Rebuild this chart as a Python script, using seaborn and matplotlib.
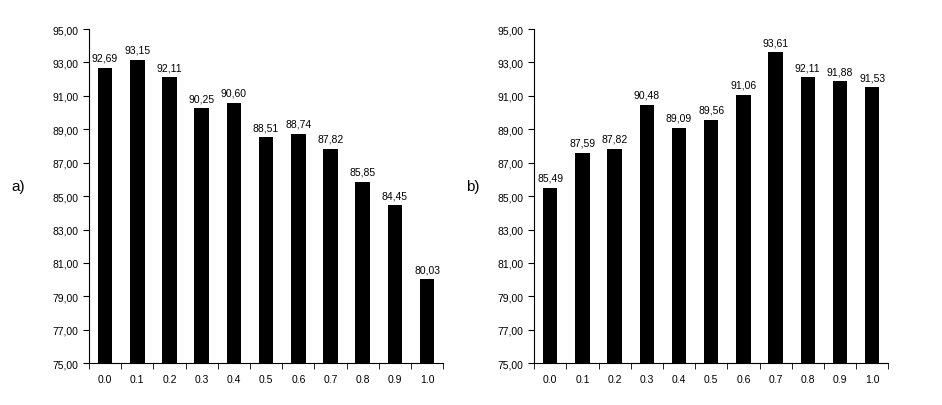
import matplotlib
matplotlib.use("Agg")
import matplotlib.pyplot as plt
import seaborn as sns
import numpy as np

categories = ["0.0","0.1","0.2","0.3","0.4","0.5","0.6","0.7","0.8","0.9","1.0"]
values_a = [92.69,93.15,92.11,90.25,90.60,88.51,88.74,87.82,85.85,84.45,80.03]
values_b = [85.49,87.59,87.82,90.48,89.09,89.56,91.06,93.61,92.11,91.88,91.53]
yticks = [75,77,79,81,83,85,87,89,91,93,95]

plt.rcParams["font.family"] = "Liberation Sans"
fig = plt.figure(figsize=(9.42,4.06), dpi=100)
axes = [fig.add_axes([0.0945,0.103,0.376,0.823]), fig.add_axes([0.567,0.103,0.376,0.823])]
for ax, vals, lab, lx in zip(axes, [values_a, values_b], ["a)","b)"], [0.012,0.495]):
    sns.barplot(x=categories, y=vals, color="black", width=0.45, ax=ax, saturation=1)
    ax.set_ylim(75,95)
    ax.set_xlim(-0.5,10.5)
    ax.set_yticks(yticks)
    ax.set_yticklabels([f"{t:.2f}".replace(".",",") for t in yticks], fontsize=7.5)
    ax.tick_params(axis="x", length=0, labelsize=7.5, pad=8)
    ax.set_xticks(np.arange(-0.5,11,1), minor=True)
    ax.tick_params(axis="x", which="minor", length=4, direction="out")
    ax.tick_params(axis="y", length=4, direction="out")
    for s in ["top","right"]:
        ax.spines[s].set_visible(False)
    for i, v in enumerate(vals):
        ax.text(i, v+0.3, f"{v:.2f}".replace(".",","), ha="center", va="bottom", fontsize=7.5)
    ax.set_xlabel(""); ax.set_ylabel("")
    fig.text(lx, 0.53, lab, fontsize=11)
fig.savefig("out.png", dpi=100)
